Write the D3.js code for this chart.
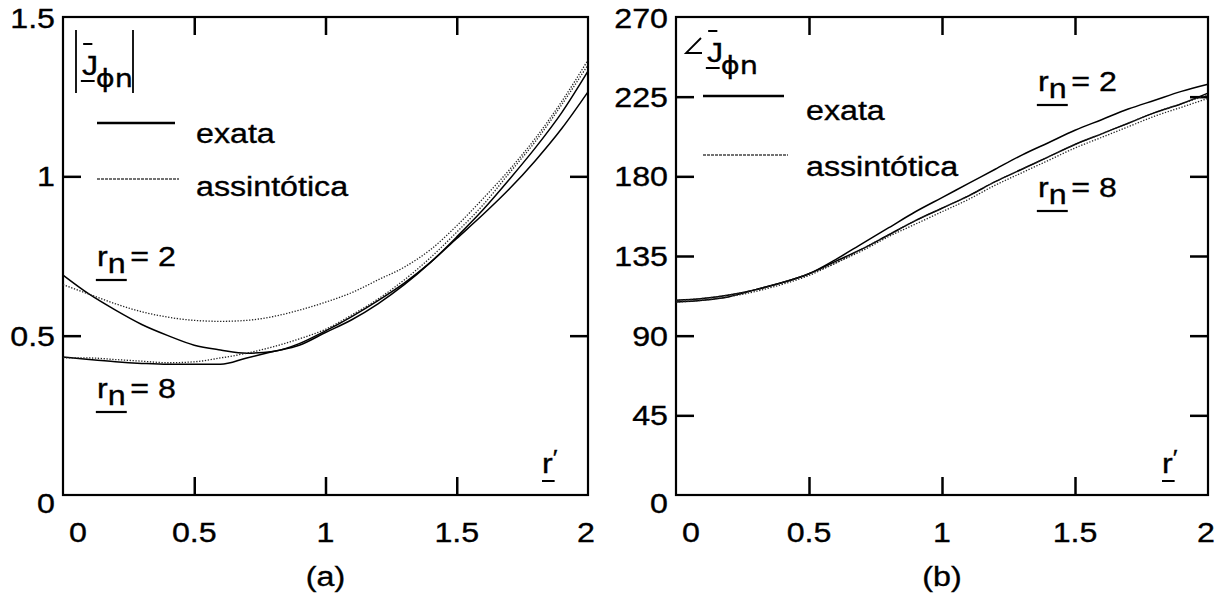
<!DOCTYPE html>
<html>
<head>
<meta charset="utf-8">
<script src="https://cdn.jsdelivr.net/npm/d3@7"></script>
<style>
  body { margin: 0; background: #fff; }
  text { font-family: "Liberation Sans", Arial, Helvetica, sans-serif; fill: #000; stroke: #000; stroke-width: 0.35px; }
</style>
</head>
<body>
<svg id="chart" width="1217" height="593"></svg>
<script>
// r' sample positions shared by every curve
const rPrime = [0, 0.1, 0.2, 0.3, 0.4, 0.5, 0.6, 0.7, 0.8, 0.9, 1.0,
                1.1, 1.2, 1.3, 1.4, 1.5, 1.6, 1.7, 1.8, 1.9, 2.0];

// (a) magnitude |J_phi n|
const magExata2   = [0.69, 0.63, 0.58, 0.535, 0.50, 0.47, 0.455, 0.445, 0.45, 0.475, 0.515,
                     0.56, 0.61, 0.665, 0.73, 0.805, 0.88, 0.96, 1.05, 1.15, 1.265];
const magAssint2  = [0.66, 0.63, 0.60, 0.575, 0.558, 0.548, 0.545, 0.548, 0.56, 0.58, 0.605,
                     0.635, 0.675, 0.715, 0.77, 0.845, 0.93, 1.02, 1.12, 1.235, 1.365];
const magExata8   = [0.433, 0.425, 0.418, 0.413, 0.41, 0.41, 0.41, 0.43, 0.45, 0.47, 0.51,
                     0.55, 0.60, 0.66, 0.73, 0.81, 0.895, 0.99, 1.09, 1.20, 1.33];
const magAssint8  = [0.43, 0.43, 0.425, 0.42, 0.415, 0.418, 0.43, 0.445, 0.465, 0.49, 0.52,
                     0.565, 0.615, 0.675, 0.745, 0.825, 0.91, 1.01, 1.11, 1.225, 1.35];

// (b) phase angle of J_phi n, degrees
const angExata2   = [110, 111, 113, 116, 120, 125, 133, 142, 151, 160, 168,
                     176, 184, 192, 199, 206, 212, 218, 223, 228, 232];
const angAssint2  = [110, 111, 113, 116, 120, 125, 131, 139, 147, 155, 162,
                     169, 177, 184, 191, 198, 204, 210, 216, 221, 226];
const angExata8   = [109, 110, 112, 116, 120, 125, 132, 139, 147, 155, 162,
                     169, 177, 184, 191, 198, 204, 210, 216, 221, 227];
const angAssint8  = [109, 110, 112, 115, 119, 124, 131, 138, 146, 153, 160,
                     167, 175, 182, 189, 196, 202, 208, 214, 219, 224];

// axis ticks and labels
const xTicks   = [0, 0.5, 1, 1.5, 2];
const magTicks = [0, 0.5, 1, 1.5];
const angTicks = [0, 45, 90, 135, 180, 225, 270];

const svg = d3.select("#chart");
const FS = 28;       // font size
const SX = 1.15;     // horizontal stretch of the lettering

function label(g, x, y, str, anchor = "start", size = FS) {
  return g.append("text")
    .attr("transform", `translate(${x},${y}) scale(${SX},1)`)
    .attr("text-anchor", anchor)
    .attr("font-size", size)
    .text(str);
}

// "r" with an underlined subscript n, followed by "= value"
function rnLabel(g, x, y, value) {
  const grp = g.append("g").attr("transform", `translate(${x},${y}) scale(${SX},1)`);
  const t = grp.append("text").attr("font-size", FS);
  t.append("tspan").text("r");
  t.append("tspan").attr("dy", 7).text("n");
  t.append("tspan").attr("dy", -7).attr("dx", 4).text("= " + value);
  const w = t.node().getSubStringLength(0, 2);
  grp.append("line").attr("x1", -1).attr("x2", w + 1).attr("y1", 14).attr("y2", 14)
    .attr("stroke", "#000").attr("stroke-width", 2.2);
}

// underlined r' at the lower right of each frame
function rPrimeLabel(g, x, y) {
  const grp = g.append("g").attr("transform", `translate(${x},${y}) scale(${SX},1)`);
  const t = grp.append("text").attr("font-size", FS);
  t.append("tspan").text("r");
  t.append("tspan").attr("dy", -8).attr("font-size", 22).text("\u2032");
  grp.append("line").attr("x1", 0).attr("x2", 11).attr("y1", 8).attr("y2", 8)
    .attr("stroke", "#000").attr("stroke-width", 2);
}

// J with overbar, underline and subscript phi n
function jLabel(g, x, y) {
  const grp = g.append("g").attr("transform", `translate(${x},${y}) scale(${SX},1)`);
  grp.append("text").attr("font-size", FS).text("J");
  grp.append("line").attr("x1", 1).attr("x2", 9).attr("y1", -31).attr("y2", -31)
    .attr("stroke", "#000").attr("stroke-width", 2);
  grp.append("line").attr("x1", -1).attr("x2", 11).attr("y1", 6).attr("y2", 6)
    .attr("stroke", "#000").attr("stroke-width", 2);
  grp.append("text").attr("x", 12).attr("y", 12)
    .style("font-family", "'DejaVu Sans', sans-serif").attr("font-size", 25).text("\u03d5n");
}

function panel(cfg) {
  const g = svg.append("g");
  const x = d3.scaleLinear().domain([0, 2]).range([cfg.x0, cfg.x1]);
  const y = d3.scaleLinear().domain(cfg.yDomain).range([cfg.y1, cfg.y0]);
  const inner = cfg.yTicks.slice(1, -1);
  const innerX = xTicks.slice(1, -1);
  const tick = 18;

  // inward ticks on all four sides
  const axes = [
    [d3.axisBottom(x).tickValues(innerX), `translate(0,${cfg.y1})`],
    [d3.axisTop(x).tickValues(innerX), `translate(0,${cfg.y0})`],
    [d3.axisLeft(y).tickValues(inner), `translate(${cfg.x0},0)`],
    [d3.axisRight(y).tickValues(inner), `translate(${cfg.x1},0)`]
  ];
  axes.forEach(([ax, tr]) => {
    const a = g.append("g").attr("transform", tr)
      .call(ax.tickSize(-tick).tickFormat(""));
    a.select(".domain").remove();
    a.selectAll("line").attr("stroke", "#000").attr("stroke-width", 2.5);
  });

  // frame
  g.append("rect")
    .attr("x", cfg.x0).attr("y", cfg.y0)
    .attr("width", cfg.x1 - cfg.x0).attr("height", cfg.y1 - cfg.y0)
    .attr("fill", "none").attr("stroke", "#000").attr("stroke-width", 2.2);

  // tick labels
  xTicks.forEach((v, i) => {
    let dx = 0;
    if (i === 0) dx = 15;
    if (i === xTicks.length - 1) dx = -2;
    label(g, x(v) + dx, cfg.y1 + 47, d3.format("")(v), "middle");
  });
  cfg.yTicks.forEach((v, i) => {
    let dy = 10;
    if (i === 0) dy = 18;
    if (i === cfg.yTicks.length - 1) dy = 11;
    label(g, cfg.x0 - 8, y(v) + dy, String(v), "end");
  });

  // curves
  const line = d3.line().x((d, i) => x(rPrime[i])).y(d => y(d)).curve(d3.curveMonotoneX);
  cfg.series.forEach(s => {
    g.append("path").datum(s.values)
      .attr("d", line)
      .attr("fill", "none")
      .attr("stroke", s.dotted ? "#222" : "#000")
      .attr("stroke-width", s.dotted ? 1.3 : 1.5)
      .attr("stroke-dasharray", s.dotted ? "1.3,1.6" : null);
  });

  // legend
  const L = cfg.legend;
  g.append("line").attr("x1", L.x1).attr("x2", L.x2).attr("y1", L.ySolid).attr("y2", L.ySolid)
    .attr("stroke", "#000").attr("stroke-width", 2.6);
  label(g, L.tx, L.yExata, "exata");
  g.append("line").attr("x1", L.x1).attr("x2", L.x2 + 4).attr("y1", L.yDot).attr("y2", L.yDot)
    .attr("stroke", "#444").attr("stroke-width", 1.3).attr("stroke-dasharray", "3,1");
  label(g, L.tx, L.yAssint, "assintótica");

  rnLabel(g, cfg.rn2[0], cfg.rn2[1], 2);
  rnLabel(g, cfg.rn8[0], cfg.rn8[1], 8);
  rPrimeLabel(g, cfg.x1 - 46, cfg.y1 - 22);

  label(g, (cfg.x0 + cfg.x1) / 2, 586, cfg.caption, "middle");
  return g;
}

const ga = panel({
  x0: 63, x1: 588, y0: 17, y1: 495,
  yDomain: [0, 1.5], yTicks: magTicks,
  series: [
    { values: magExata2 }, { values: magExata8 },
    { values: magAssint2, dotted: true }, { values: magAssint8, dotted: true }
  ],
  legend: { x1: 97, x2: 175, ySolid: 123, yDot: 179, tx: 196, yExata: 143, yAssint: 196 },
  rn2: [97, 266], rn8: [97, 398],
  caption: "(a)"
});
// |J| magnitude bars
ga.append("line").attr("x1", 76).attr("x2", 76).attr("y1", 30).attr("y2", 93)
  .attr("stroke", "#000").attr("stroke-width", 1.8);
ga.append("line").attr("x1", 133).attr("x2", 133).attr("y1", 30).attr("y2", 93)
  .attr("stroke", "#000").attr("stroke-width", 1.8);
jLabel(ga, 82, 75);

const gb = panel({
  x0: 676, x1: 1208, y0: 17, y1: 495,
  yDomain: [0, 270], yTicks: angTicks,
  series: [
    { values: angExata2 }, { values: angExata8 },
    { values: angAssint2, dotted: true }, { values: angAssint8, dotted: true }
  ],
  legend: { x1: 703, x2: 784, ySolid: 96, yDot: 155, tx: 806, yExata: 120, yAssint: 176 },
  rn2: [1038, 91], rn8: [1038, 197],
  caption: "(b)"
});
// angle sign before J
gb.append("path").attr("d", "M701,38 L686,53 L702,53")
  .attr("fill", "none").attr("stroke", "#000").attr("stroke-width", 1.8);
jLabel(gb, 707, 62);
</script>
</body>
</html>
